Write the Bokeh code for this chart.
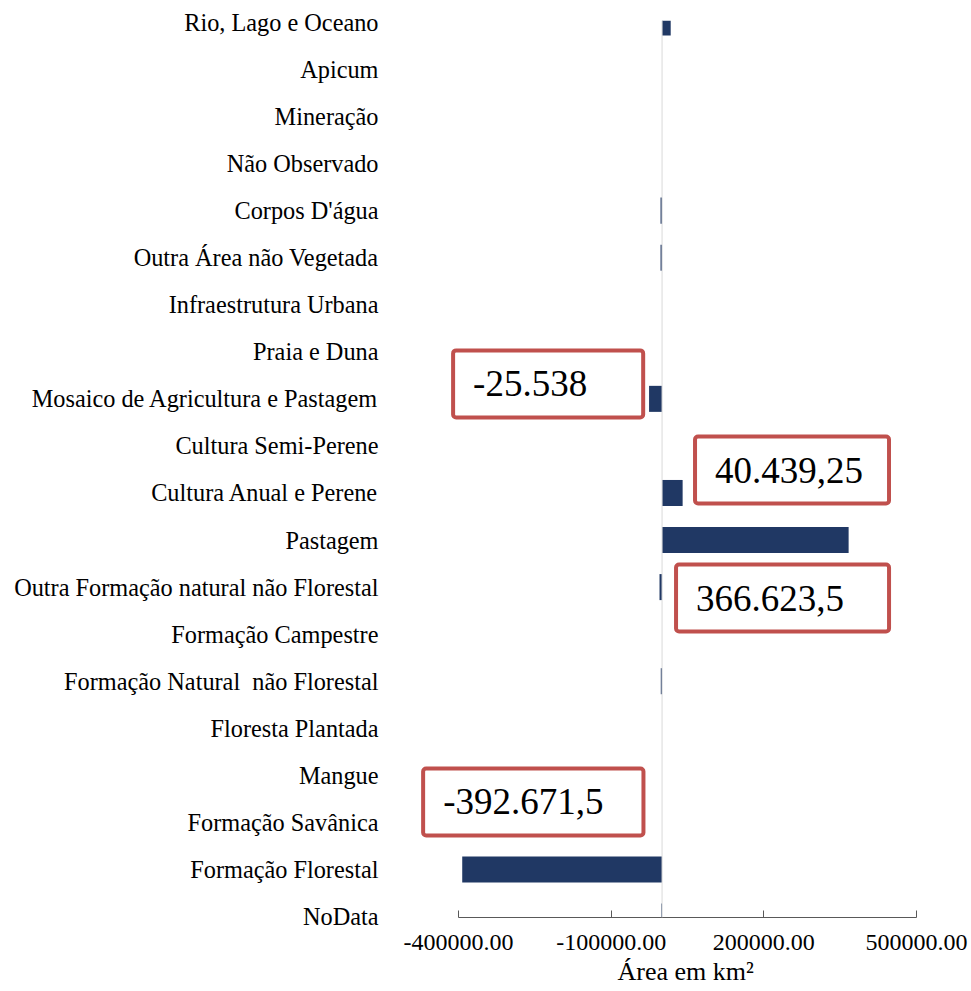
from bokeh.plotting import figure
from bokeh.models import Range1d, FixedTicker, NumeralTickFormatter, Span, Label, Title
from bokeh.embed import file_html
from bokeh.resources import INLINE

# Categories listed top to bottom
categories = [
    "Rio, Lago e Oceano",
    "Apicum",
    "Mineração",
    "Não Observado",
    "Corpos D'água",
    "Outra Área não Vegetada",
    "Infraestrutura Urbana",
    "Praia e Duna",
    "Mosaico de Agricultura e Pastagem",
    "Cultura Semi-Perene",
    "Cultura Anual e Perene",
    "Pastagem",
    "Outra Formação natural não Florestal",
    "Formação Campestre",
    "Formação Natural\u00a0 não Florestal",
    "Floresta Plantada",
    "Mangue",
    "Formação Savânica",
    "Formação Florestal",
    "NoData",
]
values = [
    17000, 0, 0, 0, -3000, -3000, 0, 0, -25538, 0,
    40439.25, 366623.5, -5000, 0, -2500, 0, 0, 0, -392671.5, -1500,
]
x_ticks = [-400000, -100000, 200000, 500000]
x_label = "Área em km²"
callout_texts = ["-25.538", "40.439,25", "366.623,5", "-392.671,5"]

FONT = "Liberation Serif"
n = len(categories)
ypos = [n - 1 - i for i in range(n)]

p = figure(width=971, height=991, output_backend="svg", toolbar_location=None,
           x_range=Range1d(-513974, 500000), y_range=Range1d(-0.021, 19.04),
           min_border_left=400, min_border_right=55, min_border_top=20,
           min_border_bottom=74)
p.outline_line_color = None
p.xgrid.visible = False
p.ygrid.visible = False

p.add_layout(Span(location=0, dimension="height", line_color="#d9d9d9", line_width=1))

p.hbar(y=ypos, left=0, right=values, height=0.553, fill_color="#203864",
       line_color=None)

# x axis
xa = p.xaxis[0]
xa.bounds = (x_ticks[0], x_ticks[-1])
xa.ticker = FixedTicker(ticks=x_ticks)
xa.formatter = NumeralTickFormatter(format="0.00")
xa.axis_line_color = "#595959"
xa.major_tick_line_color = "#595959"
xa.major_tick_in = 7
xa.major_tick_out = 0
xa.minor_tick_line_color = None
xa.major_label_text_font = FONT
xa.major_label_text_font_size = "24px"
xa.major_label_text_color = "#000000"
xa.major_label_standoff = 17

# x-axis title, centred under the axis bounds
p.add_layout(Title(text=x_label, align="left", offset=217, standoff=4,
                   text_font=FONT, text_font_size="26px", text_font_style="normal",
                   text_color="#000000"), "below")

# y axis
ya = p.yaxis[0]
ya.ticker = FixedTicker(ticks=ypos)
ya.major_label_overrides = {y: c for y, c in zip(ypos, categories)}
ya.axis_line_color = None
ya.major_tick_line_color = None
ya.minor_tick_line_color = None
ya.major_tick_out = 0
ya.major_tick_in = 0
ya.major_label_standoff = 22
ya.major_label_text_font = FONT
ya.major_label_text_font_size = "24.3px"
ya.major_label_text_color = "#000000"

# Callout boxes (annotations)
callout_pos = [(-410600, 12.03, 56), (64800, 10.20, 26), (27500, 7.48, 45), (-469500, 3.146, 40)]
for txt, (lx, ly, pr) in zip(callout_texts, callout_pos):
    p.add_layout(Label(x=lx, y=ly, text=txt, anchor="top_left",
                       text_font=FONT, text_font_size="37px", text_color="#000000",
                       background_fill_color="white",
                       border_line_color="#c0504d", border_line_width=4,
                       border_radius=3,
                       padding=dict(left=20, right=pr, top=21, bottom=21)))

open("out.html", "w").write(file_html(p, INLINE))
